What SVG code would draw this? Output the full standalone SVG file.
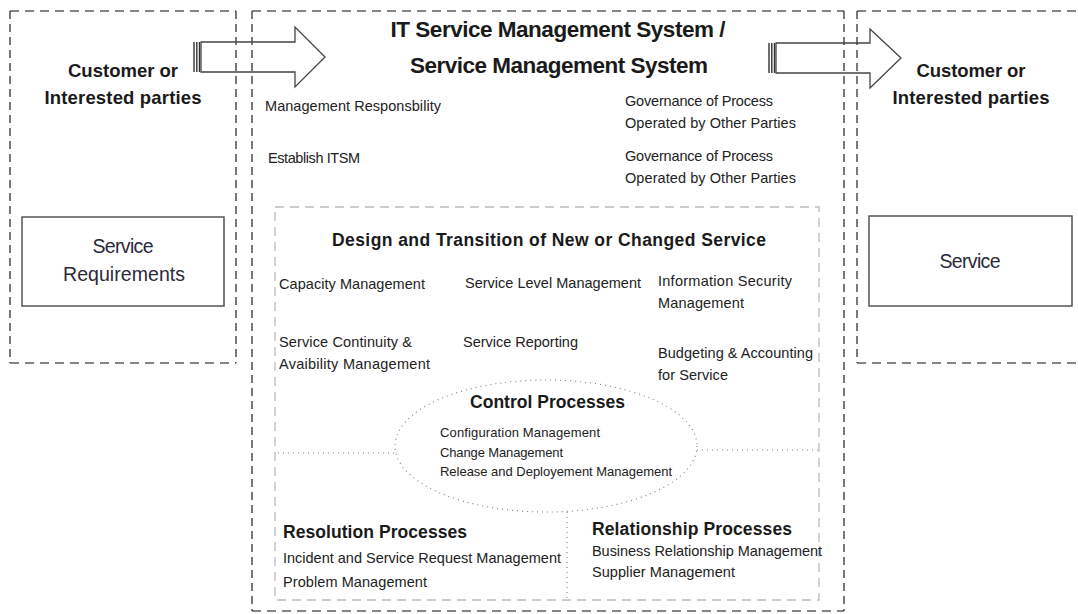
<svg xmlns="http://www.w3.org/2000/svg" width="1078" height="614" viewBox="0 0 1078 614">
  <style>
    .hz { stroke: #858585; stroke-width: 2.2; stroke-dasharray: 9 6; }
    .vt { stroke: #333; stroke-width: 1.3; stroke-dasharray: 8 5; }
    .inner { fill: none; stroke: #bcbcbc; stroke-width: 1.3; stroke-dasharray: 9 6; }
    .dots { fill: none; stroke: #808080; stroke-width: 1.1; stroke-dasharray: 1 4; }
    .box { fill: #fff; stroke: #555; stroke-width: 1.5; }
    .arrow { fill: none; stroke: #444; stroke-width: 1.3; }
    .bar { stroke: #333; stroke-width: 1.4; }
    text { font-family: "Liberation Sans", Arial, sans-serif; fill: #1a1a1a; }
    .h1 { font-size: 22.5px; font-weight: bold; text-anchor: middle; }
    .h2 { font-size: 18.5px; font-weight: bold; text-anchor: middle; }
    .h3 { font-size: 17.5px; font-weight: bold; }
    .t { font-size: 14.5px; fill: #222; }
    .s { font-size: 13px; fill: #222; }
    .box-label { font-size: 19.5px; text-anchor: middle; fill: #2a2a3a; }
  </style>

  <!-- customer side (input) -->
  <g id="customer-in">
    <line class="hz" x1="10" y1="11" x2="236" y2="11"/>
    <line class="hz" x1="10" y1="363" x2="236" y2="363"/>
    <line class="vt" x1="10" y1="11" x2="10" y2="363"/>
    <line class="vt" x1="236" y1="11" x2="236" y2="363"/>
    <text class="h2" x="123" y="77" textLength="110">Customer or</text>
    <text class="h2" x="123" y="104" textLength="157">Interested parties</text>
  </g>
  <g id="service-requirements">
    <rect class="box" x="22" y="217" width="202" height="89"/>
    <text class="box-label" x="123" y="253" textLength="61">Service</text>
    <text class="box-label" x="124" y="281" textLength="122">Requirements</text>
  </g>

  <!-- management system frame -->
  <g id="sms">
    <line class="hz" x1="252" y1="11" x2="844" y2="11"/>
    <line class="hz" x1="252" y1="611" x2="844" y2="611"/>
    <line class="vt" x1="252" y1="11" x2="252" y2="611"/>
    <line class="vt" x1="844" y1="11" x2="844" y2="611"/>
    <text class="h1" x="558" y="37" textLength="335">IT Service Management System /</text>
    <text class="h1" x="559" y="73" textLength="298">Service Management System</text>
    <text class="t" x="265" y="111" textLength="176">Management Responsbility</text>
    <text class="t" x="268" y="163" textLength="92">Establish ITSM</text>
    <text class="t" x="625" y="106" textLength="148">Governance of Process</text>
    <text class="t" x="625" y="128" textLength="171">Operated by Other Parties</text>
    <text class="t" x="625" y="161" textLength="148">Governance of Process</text>
    <text class="t" x="625" y="183" textLength="171">Operated by Other Parties</text>
  </g>

  <!-- design and transition -->
  <g id="design-transition">
    <rect class="inner" x="275" y="207" width="544" height="393"/>
    <text class="h3" x="549" y="246" font-size="18" text-anchor="middle" textLength="434">Design and Transition of New or Changed Service</text>
    <text class="t" x="279" y="289" textLength="146">Capacity Management</text>
    <text class="t" x="465" y="288" textLength="176">Service Level Management</text>
    <text class="t" x="658" y="286" textLength="134">Information Security</text>
    <text class="t" x="658" y="308" textLength="86">Management</text>
    <text class="t" x="279" y="347" textLength="133">Service Continuity &amp;</text>
    <text class="t" x="279" y="369" textLength="151">Avaibility Management</text>
    <text class="t" x="463" y="347" textLength="115">Service Reporting</text>
    <text class="t" x="658" y="358" textLength="155">Budgeting &amp; Accounting</text>
    <text class="t" x="658" y="380" textLength="70">for Service</text>
  </g>

  <!-- control processes -->
  <g id="control-processes">
    <ellipse class="dots" cx="546" cy="446" rx="151" ry="66"/>
    <text class="h3" x="470" y="408" textLength="155">Control Processes</text>
    <text class="s" x="440" y="437" textLength="160">Configuration Management</text>
    <text class="s" x="440" y="457" textLength="123">Change Management</text>
    <text class="s" x="440" y="476" textLength="232">Release and Deployement Management</text>
  </g>

  <!-- resolution processes -->
  <g id="resolution-processes">
    <text class="h3" x="283" y="538" textLength="184">Resolution Processes</text>
    <text class="t" x="283" y="563" textLength="278">Incident and Service Request Management</text>
    <text class="t" x="283" y="587" textLength="144">Problem Management</text>
  </g>

  <!-- relationship processes -->
  <g id="relationship-processes">
    <text class="h3" x="592" y="535" textLength="200">Relationship Processes</text>
    <text class="t" x="592" y="556" textLength="230">Business Relationship Management</text>
    <text class="t" x="592" y="577" textLength="143">Supplier Management</text>
  </g>

  <!-- customer side (output) -->
  <g id="customer-out">
    <line class="hz" x1="857" y1="11" x2="1078" y2="11"/>
    <line class="hz" x1="857" y1="363" x2="1078" y2="363"/>
    <line class="vt" x1="857" y1="11" x2="857" y2="363"/>
    <text class="h2" x="971" y="77" textLength="109">Customer or</text>
    <text class="h2" x="971" y="104" textLength="157">Interested parties</text>
  </g>
  <g id="service">
    <rect class="box" x="869" y="216" width="203" height="90"/>
    <text class="box-label" x="970" y="268" textLength="61">Service</text>
  </g>

  <!-- connectors -->
  <g id="connectors">
    <line class="dots" x1="278" y1="453" x2="396" y2="453"/>
    <line class="dots" x1="697" y1="450" x2="818" y2="450"/>
    <line class="dots" x1="567" y1="512" x2="567" y2="599"/>
    <line class="bar" x1="194" y1="42" x2="194" y2="72"/>
    <line class="bar" x1="196.8" y1="42" x2="196.8" y2="72"/>
    <line class="bar" x1="199.5" y1="42" x2="199.5" y2="72"/>
    <path class="arrow" d="M201,42 H295 V27 L325,57 L295,87 V72 H201 Z"/>
    <line class="bar" x1="769" y1="43" x2="769" y2="73"/>
    <line class="bar" x1="771.8" y1="43" x2="771.8" y2="73"/>
    <line class="bar" x1="774.5" y1="43" x2="774.5" y2="73"/>
    <path class="arrow" d="M776,43 H870 V29 L901,58 L870,88 V73 H776 Z"/>
  </g>
</svg>
